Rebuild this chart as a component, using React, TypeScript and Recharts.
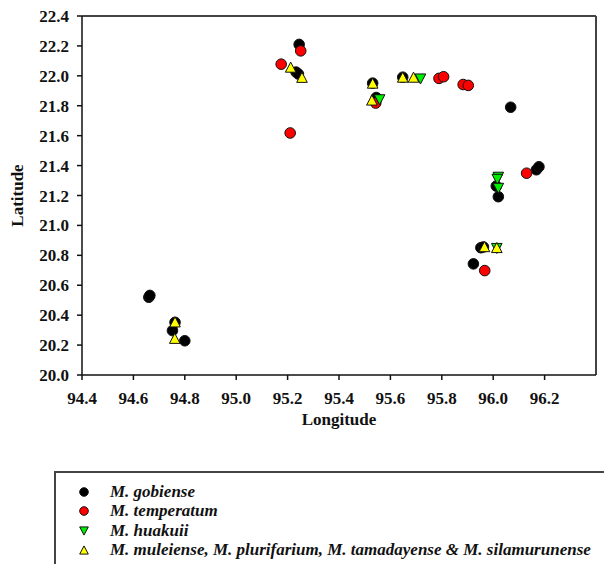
import React from "react";
import {
  ScatterChart,
  Scatter,
  XAxis,
  YAxis,
  ReferenceLine,
} from "recharts";

// Sampling sites per species, [longitude, latitude]
const gobiense: [number, number][] = [
  [95.245, 22.21],
  [95.233, 22.025],
  [95.242, 22.012],
  [95.531, 21.951],
  [95.545, 21.855],
  [95.648, 21.991],
  [96.068, 21.79],
  [96.168, 21.372],
  [96.178, 21.392],
  [96.012, 21.263],
  [96.02, 21.192],
  [95.952, 20.851],
  [95.962, 20.856],
  [95.923, 20.743],
  [94.66, 20.52],
  [94.664, 20.532],
  [94.762, 20.352],
  [94.752, 20.297],
  [94.8, 20.229],
];

const temperatum: [number, number][] = [
  [95.251, 22.167],
  [95.175, 22.078],
  [95.21, 21.618],
  [95.543, 21.818],
  [95.789, 21.983],
  [95.807, 21.994],
  [95.883, 21.942],
  [95.903, 21.936],
  [96.13, 21.349],
  [95.967, 20.698],
];

const huakuii: [number, number][] = [
  [95.558, 21.84],
  [95.717, 21.979],
  [96.02, 21.322],
  [96.016, 21.308],
  [96.02, 21.248],
  [96.014, 20.846],
];

const muleienseGroup: [number, number][] = [
  [95.212, 22.058],
  [95.256, 21.99],
  [95.531, 21.951],
  [95.528, 21.838],
  [95.648, 21.991],
  [95.69, 21.991],
  [95.966, 20.858],
  [96.014, 20.852],
  [94.762, 20.355],
  [94.761, 20.245],
];

const lonTicks = [94.4, 94.6, 94.8, 95.0, 95.2, 95.4, 95.6, 95.8, 96.0, 96.2];
const latTicks = [20.0, 20.2, 20.4, 20.6, 20.8, 21.0, 21.2, 21.4, 21.6, 21.8, 22.0, 22.2, 22.4];

const legendItems = [
  { label: "M. gobiense", kind: "circle", color: "#000000" },
  { label: "M. temperatum", kind: "circle", color: "#ff0000" },
  { label: "M. huakuii", kind: "down", color: "#00ee00" },
  {
    label: "M. muleiense, M. plurifarium, M. tamadayense & M. silamurunense",
    kind: "up",
    color: "#ffff00",
  },
];

const toPoints = (arr: [number, number][]) => arr.map(([x, y]) => ({ x, y }));

const FONT = '"Liberation Serif", "Times New Roman", serif';

function Marker({ cx, cy, kind, color, s = 5.3 }: any) {
  if (cx == null || cy == null) return null;
  if (kind === "circle") {
    return <circle cx={cx} cy={cy} r={s} fill={color} stroke="#111" strokeWidth={1} />;
  }
  const h = s * 0.95;
  const pts =
    kind === "up"
      ? `${cx},${cy - h} ${cx + s},${cy + h} ${cx - s},${cy + h}`
      : `${cx},${cy + h} ${cx + s},${cy - h} ${cx - s},${cy - h}`;
  return <polygon points={pts} fill={color} stroke="#111" strokeWidth={1} strokeLinejoin="round" />;
}

const tickStyle = { fill: "#111", fontFamily: FONT, fontWeight: 700, fontSize: 17 };

export default function App() {
  return (
    <div
      style={{
        position: "fixed",
        left: 0,
        top: 0,
        width: 604,
        height: 564,
        overflow: "hidden",
        background: "#fff",
      }}
    >
      <ScatterChart
        width={604}
        height={440}
        margin={{ top: 16, right: 8, left: 0, bottom: 0 }}
      >
        <XAxis
          type="number"
          dataKey="x"
          domain={[94.4, 96.4]}
          ticks={lonTicks}
          tickFormatter={(v) => v.toFixed(1)}
          height={65}
          tickSize={5}
          tickMargin={12}
          tick={tickStyle}
          axisLine={{ stroke: "#111", strokeWidth: 1.5 }}
          tickLine={{ stroke: "#111", strokeWidth: 1.5 }}
          allowDataOverflow
          label={{
            content: ({ viewBox }: any) => (
              <text
                x={viewBox.x + viewBox.width / 2}
                y={viewBox.y + 50}
                textAnchor="middle"
                fontFamily={FONT}
                fontWeight={700}
                fontSize={17}
                fill="#111"
              >
                Longitude
              </text>
            ),
          }}
        />
        <YAxis
          type="number"
          dataKey="y"
          domain={[20, 22.4]}
          ticks={latTicks}
          tickFormatter={(v) => v.toFixed(1)}
          width={82}
          tickSize={5}
          tickMargin={8}
          tick={tickStyle}
          axisLine={{ stroke: "#111", strokeWidth: 1.5 }}
          tickLine={{ stroke: "#111", strokeWidth: 1.5 }}
          allowDataOverflow
          label={{
            content: ({ viewBox }: any) => {
              const cx = 17;
              const cy = viewBox.y + viewBox.height / 2;
              return (
                <text
                  x={cx}
                  y={cy}
                  transform={`rotate(-90 ${cx} ${cy})`}
                  textAnchor="middle"
                  dominantBaseline="central"
                  fontFamily={FONT}
                  fontWeight={700}
                  fontSize={17}
                  fill="#111"
                >
                  Latitude
                </text>
              );
            },
          }}
        />
        <ReferenceLine y={22.4} stroke="#444" strokeWidth={2} />
        <ReferenceLine x={96.4} stroke="#444" strokeWidth={2} />
        <Scatter
          data={toPoints(gobiense)}
          isAnimationActive={false}
          shape={(p: any) => <Marker cx={p.cx} cy={p.cy} kind="circle" color="#000000" />}
        />
        <Scatter
          data={toPoints(temperatum)}
          isAnimationActive={false}
          shape={(p: any) => <Marker cx={p.cx} cy={p.cy} kind="circle" color="#ff0000" />}
        />
        <Scatter
          data={toPoints(huakuii)}
          isAnimationActive={false}
          shape={(p: any) => <Marker cx={p.cx} cy={p.cy} kind="down" color="#00ee00" />}
        />
        <Scatter
          data={toPoints(muleienseGroup)}
          isAnimationActive={false}
          shape={(p: any) => <Marker cx={p.cx} cy={p.cy} kind="up" color="#ffff00" />}
        />
      </ScatterChart>

      <div
        style={{
          position: "absolute",
          left: 54,
          top: 471,
          width: 580,
          height: 120,
          border: "2px solid #444",
          boxSizing: "border-box",
          paddingTop: 9,
        }}
      >
        {legendItems.map((item) => (
          <div
            key={item.label}
            style={{
              display: "flex",
              alignItems: "center",
              height: 19.5,
              fontFamily: FONT,
              fontWeight: 700,
              fontStyle: "italic",
              fontSize: 17,
              color: "#111",
              whiteSpace: "nowrap",
            }}
          >
            <svg width={12} height={12} style={{ marginLeft: 22, marginRight: 20 }}>
              <Marker cx={6} cy={6} kind={item.kind} color={item.color} s={4.3} />
            </svg>
            <span>{item.label}</span>
          </div>
        ))}
      </div>
    </div>
  );
}
